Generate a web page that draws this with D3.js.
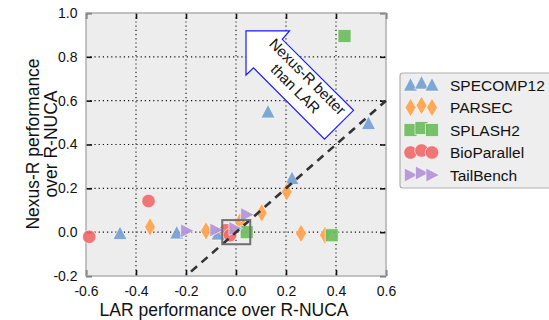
<!DOCTYPE html>
<html>
<head>
<meta charset="utf-8">
<script src="https://cdn.jsdelivr.net/npm/d3@7"></script>
<style>
  body { margin: 0; background: #fff; }
  text { font-family: "Liberation Sans", Arial, Helvetica, sans-serif; fill: #111; }
</style>
</head>
<body>
<svg id="chart" width="549" height="320"></svg>
<script>
// data
const seriesNames = ['SPECOMP12', 'PARSEC', 'SPLASH2', 'BioParallel', 'TailBench'];
const seriesColors = ['#74a1d3', '#ffa24c', '#6cbd5e', '#ef6b6b', '#b394d6'];

const specompX = [0.128, 0.53, 0.224, -0.464, -0.237, -0.072];
const specompY = [0.549, 0.496, 0.245, -0.006, -0.003, -0.008];
const parsecX = [-0.344, -0.12, 0.016, 0.103, 0.203, 0.26, 0.356];
const parsecY = [0.024, 0.006, 0.047, 0.088, 0.184, -0.006, -0.014];
const splashX = [0.434, 0.383, 0.043];
const splashY = [0.895, -0.014, 0.0];
const bioX = [-0.35, -0.587, -0.04, -0.024];
const bioY = [0.142, -0.021, 0.009, -0.014];
const tailX = [-0.197, -0.08, -0.004, 0.043];
const tailY = [0.006, 0.01, 0.017, 0.08];

const xTicks = [-0.6, -0.4, -0.2, 0.0, 0.2, 0.4, 0.6];
const yTicks = [-0.2, 0.0, 0.2, 0.4, 0.6, 0.8, 1.0];

const xLabel = 'LAR performance over R-NUCA';
const yLabelLines = ['Nexus-R performance', 'over R-NUCA'];
const noteLines = ['Nexus-R better', 'than LAR'];

// y = x reference line, zoom box and arrow in data units
const diagX = [-0.18, 0.6];
const zoomBox = { x0: -0.055, x1: 0.057, y0: -0.055, y1: 0.055 };
const arrowX = [0.04, 0.214, 0.185, 0.47, 0.354, 0.07, 0.04];
const arrowY = [0.918, 0.918, 0.880, 0.556, 0.424, 0.75, 0.717];
const noteAt = [0.263, 0.683];

const MARGIN = { LEFT: 86, TOP: 13 };
const W = 300, H = 263;

const svg = d3.select('#chart');

const xScale = d3.scaleLinear().domain([-0.6, 0.6]).range([0, W]);
const yScale = d3.scaleLinear().domain([-0.2, 1.0]).range([H, 0]);
const fmt = d => d.toFixed(1);

const chart = svg.append('g')
    .attr('transform', `translate(${MARGIN.LEFT}, ${MARGIN.TOP})`);

chart.append('rect')
    .attr('width', W).attr('height', H)
    .attr('fill', '#ededed');

// dotted grid
chart.append('g').selectAll('line')
    .data(xTicks.slice(1, -1))
    .enter().append('line')
    .attr('x1', d => xScale(d)).attr('x2', d => xScale(d))
    .attr('y1', 0).attr('y2', H)
    .attr('stroke', '#111').attr('stroke-width', 1.1)
    .attr('stroke-dasharray', '1.2,3');

chart.append('g').selectAll('line')
    .data(yTicks.slice(1, -1))
    .enter().append('line')
    .attr('y1', d => yScale(d)).attr('y2', d => yScale(d))
    .attr('x1', 0).attr('x2', W)
    .attr('stroke', '#111').attr('stroke-width', 1.1)
    .attr('stroke-dasharray', '1.2,3');

// axes: ticks inward on all four sides
const tickLen = 6;
const xAxisB = d3.axisBottom(xScale).tickValues(xTicks).tickSize(-tickLen).tickPadding(tickLen + 4).tickFormat(fmt);
const xAxisT = d3.axisTop(xScale).tickValues(xTicks).tickSize(-tickLen).tickFormat('');
const yAxisL = d3.axisLeft(yScale).tickValues(yTicks).tickSize(-tickLen).tickPadding(8.5).tickFormat(fmt);
const yAxisR = d3.axisRight(yScale).tickValues(yTicks).tickSize(-tickLen).tickFormat('');

const styleAxis = g => {
    g.select('.domain').remove();
    g.selectAll('line').attr('stroke', '#111').attr('stroke-width', 1.6);
    g.selectAll('text').attr('font-size', 14).attr('fill', '#111')
        .style('font-family', '"Liberation Sans", Arial, sans-serif');
};

chart.append('g').attr('transform', `translate(0, ${H})`).call(xAxisB).call(styleAxis);
chart.append('g').call(xAxisT).call(styleAxis);
chart.append('g').call(yAxisL).call(styleAxis);
chart.append('g').attr('transform', `translate(${W}, 0)`).call(yAxisR).call(styleAxis);

chart.append('rect')
    .attr('width', W).attr('height', H)
    .attr('fill', 'none').attr('stroke', '#b0b0b0').attr('stroke-width', 1.5);

// marker shapes
const shapes = [
    s => `M0,${-s * 0.55}L${s * 0.52},${s * 0.45}L${-s * 0.52},${s * 0.45}Z`,
    s => `M0,${-s * 0.72}L${s * 0.42},0L0,${s * 0.72}L${-s * 0.42},0Z`,
    s => `M${-s / 2},${-s / 2}h${s}v${s}h${-s}Z`,
    s => d3.symbol(d3.symbolCircle, Math.PI * (s / 2) * (s / 2))(),
    s => `M${-s * 0.45},${-s * 0.52}L${s * 0.55},0L${-s * 0.45},${s * 0.52}Z`
];
const sizes = [13.5, 13, 13, 13.5, 13.5];

const series = [
    { xs: specompX, ys: specompY },
    { xs: parsecX, ys: parsecY },
    { xs: splashX, ys: splashY },
    { xs: bioX, ys: bioY },
    { xs: tailX, ys: tailY }
];

const points = [];
series.forEach((s, i) => s.xs.forEach((x, j) => points.push({ x, y: s.ys[j], k: i })));

chart.append('g').selectAll('path')
    .data(points)
    .enter().append('path')
    .attr('transform', d => `translate(${xScale(d.x)}, ${yScale(d.y)})`)
    .attr('d', d => shapes[d.k](sizes[d.k]))
    .attr('fill', d => seriesColors[d.k])
    .attr('fill-opacity', 0.92)
    .attr('stroke', '#fff').attr('stroke-width', 0.6);

// y = x dashed line
chart.append('line')
    .attr('x1', xScale(diagX[0])).attr('y1', yScale(diagX[0]))
    .attr('x2', xScale(diagX[1])).attr('y2', yScale(diagX[1]))
    .attr('stroke', '#333').attr('stroke-width', 2.6)
    .attr('stroke-dasharray', '8,6');

// zoom box
chart.append('rect')
    .attr('x', xScale(zoomBox.x0)).attr('y', yScale(zoomBox.y1))
    .attr('width', xScale(zoomBox.x1) - xScale(zoomBox.x0))
    .attr('height', yScale(zoomBox.y0) - yScale(zoomBox.y1))
    .attr('fill', 'none').attr('stroke', '#707070').attr('stroke-width', 2);

// annotation arrow
chart.append('polygon')
    .attr('points', arrowX.map((x, i) => `${xScale(x)},${yScale(arrowY[i])}`).join(' '))
    .attr('fill', '#fff').attr('stroke', '#1a1aff').attr('stroke-width', 1.2);

const note = chart.append('text')
    .attr('transform', `translate(${xScale(noteAt[0])}, ${yScale(noteAt[1])}) rotate(45)`)
    .attr('text-anchor', 'middle')
    .attr('font-size', 15);
note.selectAll('tspan')
    .data(noteLines)
    .enter().append('tspan')
    .attr('x', 0)
    .attr('y', (d, i) => (i - 0.5) * 17 + 5.5)
    .text(d => d);

// axis titles
svg.append('text')
    .attr('x', 224).attr('y', 315.5)
    .attr('text-anchor', 'middle')
    .attr('font-size', 17.5)
    .text(xLabel);

svg.append('g')
    .attr('transform', 'translate(0, 144) rotate(-90)')
    .selectAll('text')
    .data(yLabelLines)
    .enter().append('text')
    .attr('x', 0)
    .attr('y', (d, i) => 39 + i * 18)
    .attr('text-anchor', 'middle')
    .attr('font-size', 17.5)
    .text(d => d);

// legend
const legend = svg.append('g');
legend.append('rect')
    .attr('x', 400).attr('y', 73)
    .attr('width', 170).attr('height', 115)
    .attr('rx', 3)
    .attr('fill', '#eeeeee').attr('stroke', '#b0b0b0').attr('stroke-width', 1.2);

const rowY = i => 85 + i * 22.5;
const legendDx = [410.5, 421.5, 432];
const legendDy = [0, -2, 0];

seriesNames.forEach((name, i) => {
    legendDx.forEach((lx, j) => {
        legend.append('path')
            .attr('transform', `translate(${lx}, ${rowY(i) + legendDy[j]})`)
            .attr('d', shapes[i](sizes[i]))
            .attr('fill', seriesColors[i])
            .attr('fill-opacity', 0.92)
            .attr('stroke', '#fff').attr('stroke-width', 0.6);
    });
    legend.append('text')
        .attr('x', 450).attr('y', rowY(i) + 5.6)
        .attr('font-size', 15.5)
        .text(name);
});
</script>
</body>
</html>
